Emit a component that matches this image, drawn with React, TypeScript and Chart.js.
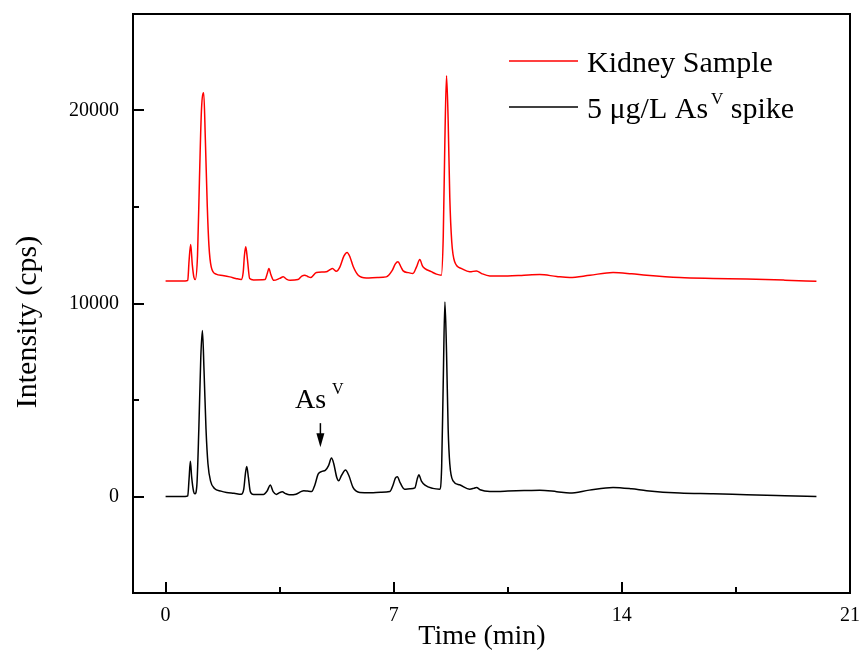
import React, { useEffect, useRef } from 'react';
import { Chart, registerables } from 'chart.js';
Chart.register(...registerables);

const SERIF = "'Liberation Serif', 'Times New Roman', serif";

const spikeTime = [0, 0.6, 0.68, 0.72, 0.76, 0.8, 0.86, 0.9, 0.96, 1.02, 1.08, 1.13, 1.18, 1.24, 1.3, 1.38, 1.5, 1.7, 1.87, 2.1, 2.32, 2.4, 2.45, 2.49, 2.54, 2.6, 2.7, 3.0, 3.12, 3.21, 3.3, 3.4, 3.5, 3.58, 3.68, 3.8, 4.0, 4.15, 4.24, 4.35, 4.48, 4.58, 4.68, 4.8, 4.9, 5.0, 5.09, 5.16, 5.25, 5.31, 5.4, 5.52, 5.62, 5.75, 5.85, 5.96, 6.3, 6.6, 6.88, 6.98, 7.05, 7.11, 7.2, 7.33, 7.5, 7.65, 7.72, 7.77, 7.85, 7.96, 8.2, 8.41, 8.47, 8.52, 8.57, 8.62, 8.67, 8.72, 8.82, 9.02, 9.33, 9.45, 9.54, 9.65, 9.95, 10.5, 11.0, 11.48, 12.0, 12.4, 13.0, 13.73, 14.3, 14.76, 15.78, 16.8, 17.83, 19.0, 19.97];
const spikeIntensity = [0, 0, 30, 900, 1820, 1000, 250, 140, 600, 3500, 7200, 8600, 6500, 3500, 1700, 800, 420, 280, 210, 170, 120, 400, 1200, 1560, 1000, 250, 110, 110, 300, 590, 250, 110, 200, 240, 150, 90, 120, 250, 300, 280, 260, 600, 1160, 1300, 1350, 1600, 1990, 1700, 1000, 815, 1100, 1370, 1100, 470, 280, 210, 200, 220, 260, 600, 950, 1020, 700, 380, 400, 450, 900, 1130, 800, 590, 420, 380, 1500, 6000, 10080, 7500, 3500, 1700, 815, 610, 380, 420, 470, 350, 260, 280, 310, 330, 250, 175, 330, 470, 400, 300, 175, 140, 90, 40, 0];

const kidneyTime = [0, 0.6, 0.68, 0.72, 0.77, 0.82, 0.87, 0.91, 0.98, 1.04, 1.1, 1.17, 1.22, 1.28, 1.33, 1.4, 1.55, 1.75, 1.97, 2.15, 2.32, 2.38, 2.42, 2.46, 2.51, 2.58, 2.7, 3.05, 3.12, 3.17, 3.23, 3.32, 3.5, 3.61, 3.72, 3.82, 4.06, 4.18, 4.27, 4.36, 4.45, 4.63, 4.93, 5.04, 5.12, 5.24, 5.35, 5.47, 5.57, 5.66, 5.76, 5.91, 6.16, 6.5, 6.77, 6.95, 7.05, 7.13, 7.22, 7.29, 7.45, 7.59, 7.7, 7.8, 7.88, 7.96, 8.15, 8.31, 8.46, 8.52, 8.57, 8.62, 8.67, 8.72, 8.78, 8.87, 9.08, 9.33, 9.54, 9.7, 9.95, 10.5, 11.0, 11.48, 12.0, 12.4, 13.02, 13.73, 14.3, 14.76, 15.78, 16.8, 17.83, 19.0, 19.97];
const kidneyIntensity = [11170, 11170, 11200, 12200, 13060, 12000, 11350, 11240, 12500, 16500, 20000, 20920, 18500, 15000, 13000, 11900, 11520, 11450, 11380, 11300, 11240, 11600, 12500, 12935, 12300, 11290, 11220, 11240, 11550, 11810, 11500, 11200, 11300, 11380, 11250, 11200, 11240, 11420, 11465, 11400, 11345, 11605, 11640, 11750, 11810, 11670, 11900, 12450, 12645, 12400, 11900, 11465, 11325, 11350, 11380, 11700, 12050, 12160, 11900, 11690, 11600, 11555, 11900, 12280, 11950, 11810, 11650, 11520, 11465, 13500, 18500, 21800, 19500, 15500, 13200, 12160, 11810, 11640, 11690, 11550, 11430, 11430, 11470, 11500, 11400, 11345, 11465, 11605, 11540, 11465, 11345, 11300, 11270, 11210, 11150];

const xMajorTicks = [0, 7, 14, 21];
const xMinorTicks = [3.5, 10.5, 17.5];
const yMajorTicks = [0, 10000, 20000];
const yMinorTicks = [5000, 15000];

const kidneyLabel = 'Kidney Sample';
const spikeLabelParts = ['5 \u03bcg/L As', 'V', ' spike'];
const annotationParts = ['As', 'V'];
const annotationTime = 4.75;
const annotationValue = 3800;

const decorPlugin = {
  id: 'decor',
  afterDraw(chart: any) {
    const { ctx, chartArea: a, scales } = chart;
    const xs = scales.x;
    const ys = scales.y;
    ctx.save();
    ctx.strokeStyle = '#000';
    ctx.lineWidth = 2;
    ctx.strokeRect(a.left, a.top, a.right - a.left, a.bottom - a.top);
    ctx.beginPath();
    xMajorTicks.forEach((v) => {
      const px = Math.round(xs.getPixelForValue(v));
      ctx.moveTo(px, a.bottom);
      ctx.lineTo(px, a.bottom - 11);
    });
    xMinorTicks.forEach((v) => {
      const px = Math.round(xs.getPixelForValue(v));
      ctx.moveTo(px, a.bottom);
      ctx.lineTo(px, a.bottom - 6);
    });
    yMajorTicks.forEach((v) => {
      const py = Math.round(ys.getPixelForValue(v));
      ctx.moveTo(a.left, py);
      ctx.lineTo(a.left + 11, py);
    });
    yMinorTicks.forEach((v) => {
      const py = Math.round(ys.getPixelForValue(v));
      ctx.moveTo(a.left, py);
      ctx.lineTo(a.left + 6, py);
    });
    ctx.stroke();

    ctx.fillStyle = '#000';
    ctx.font = `28px ${SERIF}`;
    ctx.textAlign = 'center';
    ctx.textBaseline = 'alphabetic';
    ctx.fillText('Time (min)', 482, 644);
    ctx.save();
    ctx.translate(36, 322);
    ctx.rotate(-Math.PI / 2);
    ctx.font = `30px ${SERIF}`;
    ctx.fillText('Intensity (cps)', 0, 0);
    ctx.restore();

    ctx.textAlign = 'left';
    ctx.lineWidth = 1.5;
    ctx.strokeStyle = '#ff0000';
    ctx.beginPath();
    ctx.moveTo(509, 61);
    ctx.lineTo(578, 61);
    ctx.stroke();
    ctx.strokeStyle = '#000';
    ctx.beginPath();
    ctx.moveTo(509, 107);
    ctx.lineTo(578, 107);
    ctx.stroke();
    ctx.font = `30px ${SERIF}`;
    ctx.textBaseline = 'alphabetic';
    ctx.fillText(kidneyLabel, 587, 72);
    let x = 587;
    ctx.fillText(spikeLabelParts[0], x, 118);
    x += ctx.measureText(spikeLabelParts[0]).width + 3;
    ctx.font = `17px ${SERIF}`;
    ctx.fillText(spikeLabelParts[1], x, 104);
    x += ctx.measureText(spikeLabelParts[1]).width;
    ctx.font = `30px ${SERIF}`;
    ctx.fillText(spikeLabelParts[2], x, 118);

    const ax = xs.getPixelForValue(annotationTime);
    const ay = ys.getPixelForValue(annotationValue);
    ctx.font = `28px ${SERIF}`;
    ctx.fillText(annotationParts[0], 295, 408);
    const w = ctx.measureText(annotationParts[0]).width;
    ctx.font = `16px ${SERIF}`;
    ctx.fillText(annotationParts[1], 295 + w + 6, 394);
    ctx.lineWidth = 1.5;
    ctx.beginPath();
    ctx.moveTo(ax, ay);
    ctx.lineTo(ax, ay + 14);
    ctx.stroke();
    ctx.beginPath();
    ctx.moveTo(ax - 4, ay + 10);
    ctx.lineTo(ax + 4, ay + 10);
    ctx.lineTo(ax, ay + 24);
    ctx.closePath();
    ctx.fill();
    ctx.restore();
  },
};

export default function App() {
  const ref = useRef<HTMLCanvasElement | null>(null);
  useEffect(() => {
    if (!ref.current) return;
    const chart = new Chart(ref.current, {
      type: 'line',
      data: {
        datasets: [
          {
            label: kidneyLabel,
            data: kidneyTime.map((t, i) => ({ x: t, y: kidneyIntensity[i] })),
            borderColor: '#ff0000',
            borderWidth: 1.5,
            pointRadius: 0,
            cubicInterpolationMode: 'monotone',
            fill: false,
          },
          {
            label: '5 \u03bcg/L AsV spike',
            data: spikeTime.map((t, i) => ({ x: t, y: spikeIntensity[i] })),
            borderColor: '#000000',
            borderWidth: 1.5,
            pointRadius: 0,
            cubicInterpolationMode: 'monotone',
            fill: false,
          },
        ],
      },
      options: {
        responsive: false,
        animation: false,
        layout: { padding: { top: 14, right: 10, left: 0, bottom: 0 } },
        plugins: { legend: { display: false }, tooltip: { enabled: false } },
        scales: {
          x: {
            type: 'linear',
            min: -1,
            max: 21,
            grid: { display: false, drawTicks: false },
            border: { display: false },
            afterBuildTicks: (s: any) => {
              s.ticks = xMajorTicks.map((v) => ({ value: v }));
            },
            afterFit: (s: any) => {
              s.height = 59;
              s.paddingLeft = 0;
              s.paddingRight = 0;
              s.paddingTop = 0;
              s.paddingBottom = 0;
            },
            ticks: {
              color: '#000',
              padding: 11,
              maxRotation: 0,
              autoSkip: false,
              font: { family: SERIF, size: 20 },
              callback: (v: any) => String(v),
            },
          },
          y: {
            type: 'linear',
            min: -5000,
            max: 25000,
            grid: { display: false, drawTicks: false },
            border: { display: false },
            afterBuildTicks: (s: any) => {
              s.ticks = yMajorTicks.map((v) => ({ value: v }));
            },
            afterFit: (s: any) => {
              s.width = 133;
              s.paddingLeft = 0;
              s.paddingRight = 0;
              s.paddingTop = 0;
              s.paddingBottom = 0;
            },
            ticks: {
              color: '#000',
              padding: 14,
              autoSkip: false,
              font: { family: SERIF, size: 20 },
              callback: (v: any) => String(v),
            },
          },
        },
      },
      plugins: [decorPlugin],
    });
    return () => chart.destroy();
  }, []);
  return (
    <div style={{ position: 'fixed', left: 0, top: 0, width: 860, height: 652, background: '#fff' }}>
      <canvas ref={ref} width={860} height={652} style={{ width: 860, height: 652, display: 'block' }} />
    </div>
  );
}
